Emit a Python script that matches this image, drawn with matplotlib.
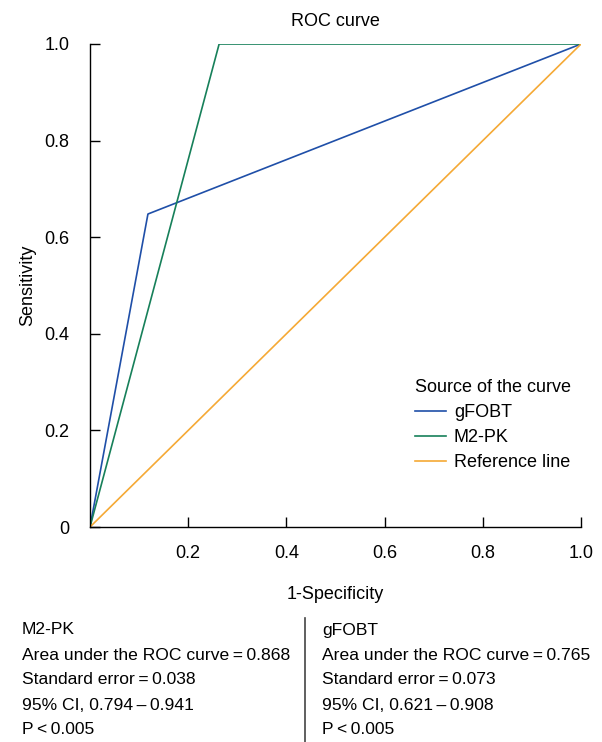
import numpy as np
import matplotlib.pyplot as plt

plt.rcParams['font.family'] = ['Liberation Sans', 'DejaVu Sans']

# ROC points (1-specificity, sensitivity)
gfobt_x = [0, 0.118, 1.0]
gfobt_y = [0, 0.648, 1.0]
m2pk_x = [0, 0.263, 1.0]
m2pk_y = [0, 1.0, 1.0]
ref_x = [0, 1.0]
ref_y = [0, 1.0]

xticks = [0.2, 0.4, 0.6, 0.8, 1.0]
yticks = [0, 0.2, 0.4, 0.6, 0.8, 1.0]
ylabels = ['0', '0.2', '0.4', '0.6', '0.8', '1.0']

m2pk_stats = ['M2-PK', 'Area under the ROC curve\u2009=\u20090.868', 'Standard error\u2009=\u20090.038',
              '95% CI, 0.794\u2009\u2013\u20090.941', 'P\u2009<\u20090.005']
gfobt_stats = ['gFOBT', 'Area under the ROC curve\u2009=\u20090.765', 'Standard error\u2009=\u20090.073',
               '95% CI, 0.621\u2009\u2013\u20090.908', 'P\u2009<\u20090.005']

fig = plt.figure(figsize=(6.02, 7.42), dpi=100)
ax = fig.add_axes([90/602, 1-527/742, 491/602, 483/742])

ax.plot(gfobt_x, gfobt_y, color='#1f4fa8', lw=1.2, label='gFOBT')
ax.plot(m2pk_x, m2pk_y, color='#17805a', lw=1.2, label='M2-PK')
ax.plot(ref_x, ref_y, color='#f5a935', lw=1.2, label='Reference line')

ax.set_xlim(0, 1)
ax.set_ylim(0, 1)
ax.set_xticks(xticks)
ax.set_yticks(yticks)
ax.set_yticklabels(ylabels)
ax.tick_params(direction='in', length=7, labelsize=13, width=1)
ax.tick_params(axis='x', pad=13)
ax.tick_params(axis='y', pad=15)
for s in ['top', 'right']:
    ax.spines[s].set_visible(False)
for s in ['left', 'bottom']:
    ax.spines[s].set_linewidth(1)

ax.set_title('ROC curve', fontsize=13, pad=13)
ax.set_xlabel('1-Specificity', fontsize=13, labelpad=17)
ax.set_ylabel('Sensitivity', fontsize=13, labelpad=6)

leg = ax.legend(title='Source of the curve', loc='lower left', bbox_to_anchor=(0.662, 0.115),
                frameon=False, fontsize=13, title_fontsize=13, handlelength=1.7,
                handletextpad=0.45, labelspacing=0.45, borderaxespad=0, borderpad=0)
leg._legend_box.align = 'left'

for i, t in enumerate(m2pk_stats):
    fig.text(22/602, 1-(630+25*i)/742, t, fontsize=12.6, va='center', ha='left')
for i, t in enumerate(gfobt_stats):
    fig.text(322/602, 1-(630+25*i)/742, t, fontsize=12.6, va='center', ha='left')
fig.add_artist(plt.Line2D([305/602, 305/602], [1-618/742, 0], color='#444444', lw=1.2))

fig.savefig('out.png', dpi=100)
